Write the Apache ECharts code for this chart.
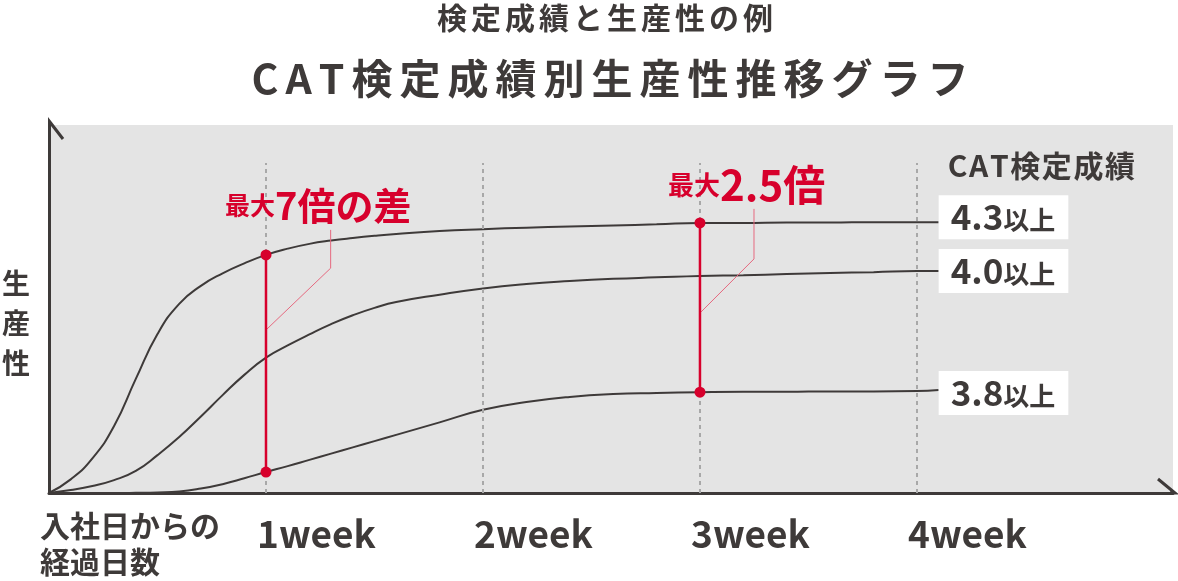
<!DOCTYPE html>
<html>
<head>
<meta charset="utf-8">
<script src="https://cdn.jsdelivr.net/npm/echarts@6/dist/echarts.min.js"></script>
<style>
html, body { margin: 0; padding: 0; background: #fff; }
#chart { width: 1178px; height: 581px; }
</style>
</head>
<body>
<div id="chart"></div>
<script>
// weeks since joining (x) / productivity index (y)
var weekTicks = [1, 2, 3, 4];
var grades = ['4.3', '4.0', '3.8'];

var weeksX = [0, 0.1, 0.2, 0.3, 0.4, 0.5, 0.6, 0.7, 0.8, 0.9, 1.0, 1.1, 1.2, 1.3, 1.4, 1.5, 1.6,
              1.8, 2.0, 2.2, 2.4, 2.6, 2.8, 3.0, 3.2, 3.4, 3.6, 3.8, 4.0, 4.1];
var y43 = [0, 3.7, 9.4, 18.2, 31.0, 43.2, 51.4, 56.3, 59.7, 62.4, 64.7, 66.4, 67.7, 68.6, 69.3, 69.9, 70.4,
           71.2, 71.7, 72.1, 72.4, 72.7, 73.0, 73.4, 73.4, 73.5, 73.5, 73.6, 73.6, 73.6];
var y40 = [0, 0.8, 1.9, 3.5, 6.0, 10.3, 15.2, 20.8, 26.6, 32.1, 36.8, 40.1, 43.1, 45.9, 48.3, 50.3, 51.9,
           53.9, 55.6, 56.8, 57.6, 58.2, 58.6, 59.0, 59.2, 59.5, 59.8, 60.0, 60.3, 60.3];
var y38 = [0, 0, 0, 0, 0.05, 0.15, 0.4, 1.2, 2.4, 4.0, 5.7, 7.3, 9.0, 10.7, 12.4, 14.1, 15.8,
           19.2, 22.6, 24.7, 26.1, 26.9, 27.2, 27.4, 27.5, 27.5, 27.6, 27.6, 27.7, 28.0];

// gaps marked in red
var gapWeeks = [1, 3];
var gapTop = [64.7, 73.4];
var gapBottom = [5.7, 27.4];

// leader lines from the red gaps to their captions
var leader7x = [1, 1.298, 1.298];
var leader7y = [44.3, 61.1, 71.5];
var leader25x = [3.005, 3.249, 3.249];
var leader25y = [49.2, 63.6, 77.2];

var dark = '#3e3a39';
var red = '#d7002c';
var font = 'Noto Sans CJK JP';

function zip(xs, ys) {
    var out = [];
    for (var i = 0; i < xs.length; i++) out.push([xs[i], ys[i]]);
    return out;
}

// spread characters apart (rich tokens with side padding)
function spaced(str) {
    var out = '';
    for (var i = 0; i < str.length; i++) out += '{c|' + str.charAt(i) + '}';
    return out;
}

function curve(grade, ys, offsetY) {
    return {
        type: 'line',
        smooth: 0.5,
        showSymbol: false,
        silent: true,
        data: zip(weeksX, ys),
        lineStyle: {color: dark, width: 2},
        endLabel: {
            show: true,
            distance: 0,
            offset: [0, offsetY],
            formatter: function () { return '{a|' + grade + '}{b|以上}'; },
            backgroundColor: '#fff',
            padding: [4, 13, 4, 12],
            rich: {
                a: {fontSize: 35, fontWeight: 'bold', color: dark, fontFamily: font, lineHeight: 36},
                b: {fontSize: 26, fontWeight: 'bold', color: dark, fontFamily: font, lineHeight: 36, padding: [6, 0, 0, 0]}
            }
        }
    };
}

var dashLines = [];
for (var i = 0; i < weekTicks.length; i++) {
    dashLines.push([{coord: [weekTicks[i], 0]}, {coord: [weekTicks[i], 89.7]}]);
}

var gapSeries = [];
for (var i = 0; i < gapWeeks.length; i++) {
    gapSeries.push({
        type: 'line',
        silent: true,
        symbol: 'circle',
        symbolSize: 11,
        data: [[gapWeeks[i], gapTop[i]], [gapWeeks[i], gapBottom[i]]],
        lineStyle: {color: red, width: 2.5},
        itemStyle: {color: red},
        z: 5
    });
}

function leader(xs, ys) {
    return {
        type: 'line',
        silent: true,
        showSymbol: false,
        data: zip(xs, ys),
        lineStyle: {color: '#e6697f', width: 1},
        z: 4
    };
}

var myChart = echarts.init(document.getElementById('chart'));

var option = {
    animation: false,
    backgroundColor: '#fff',
    grid: {
        left: 49,
        right: 5,
        top: 125,
        bottom: 88,
        show: true,
        backgroundColor: '#e4e4e4',
        borderWidth: 0
    },
    xAxis: {
        type: 'value',
        min: 0,
        max: 5.18,
        interval: 1,
        axisLine: {show: true, lineStyle: {color: dark, width: 3}},
        axisTick: {show: false},
        splitLine: {show: false},
        axisLabel: {
            showMaxLabel: false,
            align: 'center',
            padding: [0, 0, 0, 101],
            margin: 22,
            color: dark,
            fontSize: 37,
            fontWeight: 'bold',
            fontFamily: font,
            formatter: function (v) {
                return weekTicks.indexOf(v) >= 0 ? v + 'week' : '';
            }
        }
    },
    yAxis: {
        type: 'value',
        min: 0,
        max: 100,
        axisLine: {show: true, lineStyle: {color: dark, width: 3}},
        axisTick: {show: false},
        axisLabel: {show: false},
        splitLine: {show: false}
    },
    series: [
        {
            type: 'line',
            data: [],
            markLine: {
                silent: true,
                symbol: 'none',
                label: {show: false},
                lineStyle: {color: '#a8a8a8', width: 2, type: [4, 4]},
                data: dashLines
            }
        },
        curve(grades[0], y43, -5),
        curve(grades[1], y40, 0),
        curve(grades[2], y38, 3),
        leader(leader7x, leader7y),
        leader(leader25x, leader25y)
    ].concat(gapSeries),
    graphic: [
        {
            type: 'text', x: 605, y: 18,
            style: {
                text: spaced('検定成績と生産性の例'), align: 'center', verticalAlign: 'middle',
                rich: {c: {fontSize: 30, fontWeight: 'bold', fill: dark, fontFamily: font, padding: [0, 2, 0, 2]}}
            }
        },
        {
            type: 'text', x: 610, y: 78,
            style: {
                text: spaced('CAT検定成績別生産性推移グラフ'), align: 'center', verticalAlign: 'middle',
                rich: {c: {fontSize: 41, fontWeight: 'bold', fill: dark, fontFamily: font, padding: [0, 3.5, 0, 3.5]}}
            }
        },
        {
            type: 'text', x: 16, y: 263,
            style: {text: '生\n産\n性', fill: dark, fontSize: 28, lineHeight: 40, fontWeight: 'bold', fontFamily: font, align: 'center', verticalAlign: 'top'}
        },
        {
            type: 'text', x: 40, y: 508,
            style: {text: '入社日からの\n経過日数', fill: dark, fontSize: 30, lineHeight: 36, fontWeight: 'bold', fontFamily: font, align: 'left', verticalAlign: 'top'}
        },
        {
            type: 'text', x: 947, y: 166,
            style: {
                text: spaced('CAT検定成績'), align: 'left', verticalAlign: 'middle',
                rich: {c: {fontSize: 30, fontWeight: 'bold', fill: dark, fontFamily: font, padding: [0, 0.8, 0, 0.8]}}
            }
        },
        {
            type: 'text', x: 225, y: 225, z: 10,
            style: {
                text: '{s|最大}{b|7倍の差}', align: 'left', verticalAlign: 'bottom',
                rich: {
                    s: {fontSize: 25, fontWeight: 'bold', fill: red, fontFamily: font},
                    b: {fontSize: 38, fontWeight: 'bold', fill: red, fontFamily: font}
                }
            }
        },
        {
            type: 'text', x: 668, y: 206, z: 10,
            style: {
                text: '{s|最大}{b|2.5倍}', align: 'left', verticalAlign: 'bottom',
                rich: {
                    s: {fontSize: 26, fontWeight: 'bold', fill: red, fontFamily: font},
                    b: {fontSize: 42, fontWeight: 'bold', fill: red, fontFamily: font}
                }
            }
        },
        {
            type: 'polyline', z: 10,
            shape: {points: [[49.5, 126], [49.5, 121.5], [63, 139]]},
            style: {stroke: dark, lineWidth: 3, fill: null}
        },
        {
            type: 'polyline', z: 10,
            shape: {points: [[1170, 493], [1175, 493], [1158, 479]]},
            style: {stroke: dark, lineWidth: 3, fill: null}
        }
    ]
};

myChart.setOption(option);
</script>
</body>
</html>
